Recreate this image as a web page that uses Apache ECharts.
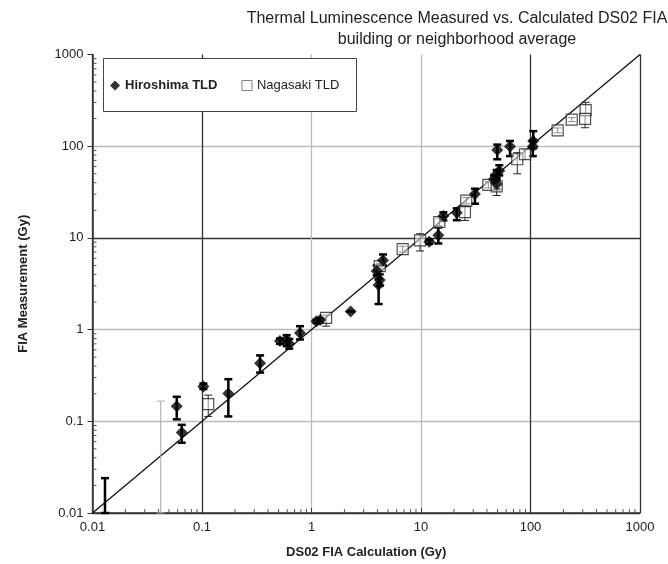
<!DOCTYPE html>
<html><head><meta charset="utf-8">
<script src="https://cdn.jsdelivr.net/npm/echarts@6/dist/echarts.min.js"></script>
<style>html,body{margin:0;padding:0;background:#fff}#c{width:668px;height:564px}</style>
</head><body><div id="c"></div>
<script>
// Hiroshima TLD
const hiroX  = [0.0588,0.0653,0.103,0.174,0.339,0.515,0.593,0.627,0.785,1.11,1.2,2.28,3.94,4.5,4.2,4.1,11.9,14.4,16.0,21.2,31.1,49.1,46.4,51.9,49.1,49.7,65.0,106,105];
const hiroY  = [0.146,0.0756,0.240,0.201,0.429,0.749,0.78,0.70,0.92,1.23,1.27,1.58,4.35,5.72,3.48,3.07,9.06,10.7,17.3,18.8,30.1,49.6,43.8,53.9,38.7,91,99,114,99];
const hiroLo = [0.105,0.0584,0.225,0.113,0.340,0.70,0.66,0.62,0.78,1.18,1.2,1.58,3.9,5.0,3.0,1.90,8.6,8.7,15.5,15.6,23.6,45,40,48,34,72,78,95,78];
const hiroHi = [0.185,0.0915,0.258,0.288,0.523,0.80,0.87,0.79,1.09,1.28,1.33,1.58,5.0,6.6,4.0,3.6,9.6,13.0,19.0,21.0,34.4,55,48,62,43,104,114,146,115];
// Nagasaki TLD
const nagaX  = [0.114,1.36,4.2,6.8,9.8,14.7,25.2,25.9,41.2,49.1,75.7,89.1,177,238,319,315];
const nagaY  = [0.154,1.34,4.93,7.53,9.42,14.9,19.1,25.5,37.8,36.5,72.1,81.7,149,195,247,199];
const nagaLo = [0.113,1.09,4.6,7.0,7.2,13.5,15.5,23.5,35,29,50,72,140,185,225,159];
const nagaHi = [0.193,1.44,5.3,8.1,11.1,16.5,22.5,27.5,41,41,85,92,158,205,301,215];
// error bars without visible marker
const thickBarX = [0.013], thickBarLo = [0.01], thickBarHi = [0.024];
const grayBarX = [0.042], grayBarLo = [0.01], grayBarHi = [0.166];
// 1:1 line
const lineX = [0.01, 1000];
// axis
const axisMin = 0.01, axisMax = 1000;
const minorVals = [0.02,0.03,0.04,0.05,0.06,0.07,0.08,0.09,0.2,0.3,0.4,0.5,0.6,0.7,0.8,0.9,2,3,4,5,6,7,8,9,20,30,40,50,60,70,80,90,200,300,400,500,600,700,800,900];

const chart = echarts.init(document.getElementById('c'));
const FONT = '"Liberation Sans", Arial, sans-serif';

function errRender(width, cap, color) {
  return function (params, api) {
    const x = api.value(0), lo = api.value(1), hi = api.value(2);
    const pl = api.coord([x, lo]), ph = api.coord([x, hi]);
    const style = {stroke: color, lineWidth: width};
    return {type: 'group', children: [
      {type: 'line', shape: {x1: pl[0], y1: pl[1], x2: ph[0], y2: ph[1]}, style},
      {type: 'line', shape: {x1: pl[0]-cap, y1: pl[1], x2: pl[0]+cap, y2: pl[1]}, style},
      {type: 'line', shape: {x1: ph[0]-cap, y1: ph[1], x2: ph[0]+cap, y2: ph[1]}, style}
    ]};
  };
}
const zip3 = (a,b,c) => a.map((v,i)=>[v,b[i],c[i]]);

chart.setOption({
  animation: false,
  backgroundColor: '#fff',
  textStyle: {fontFamily: FONT},
  title: {
    text: 'Thermal Luminescence Measured vs. Calculated DS02 FIA\nbuilding or neighborhood average',
    left: 452, top: 3, textAlign: 'center',
    textStyle: {fontFamily: FONT, fontSize: 16, fontWeight: 'normal', color: '#222', lineHeight: 21}
  },
  grid: {left: 92.5, right: 28, top: 54.5, bottom: 47.5},
  graphic: [{type: 'rect', left: 103, top: 58, shape: {width: 253, height: 53}, style: {fill: '#fff', stroke: '#444', lineWidth: 1}, z: 5}],
  legend: {
    left: 105, top: 74, itemGap: 24, itemWidth: 10, itemHeight: 10, z: 10,
    textStyle: {fontFamily: FONT, fontSize: 13, color: '#222'},
    data: [
      {name: 'Hiroshima TLD', icon: 'diamond', textStyle: {fontWeight: 'bold'}},
      {name: 'Nagasaki TLD', icon: 'rect', itemStyle: {color: '#fff', borderColor: '#666', borderWidth: 1}}
    ]
  },
  xAxis: {
    type: 'log', logBase: 10, min: axisMin, max: axisMax,
    name: 'DS02 FIA Calculation (Gy)', nameLocation: 'middle', nameGap: 33,
    nameTextStyle: {fontFamily: FONT, fontSize: 13, fontWeight: 'bold', color: '#222'},
    axisLine: {show: true, onZero: false, lineStyle: {color: '#333', width: 1.5}},
    axisTick: {show: true, inside: true, length: 5, lineStyle: {color: '#333'}},
    axisLabel: {fontFamily: FONT, fontSize: 13, color: '#222', margin: 8, formatter: v => String(+v.toPrecision(3))},
    splitLine: {show: true, lineStyle: {color: ['#333','#333','#bbb','#bbb','#333','#333'], width: 1.3}}
  },
  yAxis: {
    type: 'log', logBase: 10, min: axisMin, max: axisMax,
    name: 'FIA Measurement (Gy)', nameLocation: 'middle', nameGap: 63,
    nameTextStyle: {fontFamily: FONT, fontSize: 13, fontWeight: 'bold', color: '#222'},
    axisLine: {show: true, onZero: false, lineStyle: {color: '#333', width: 1.5}},
    axisTick: {show: true, inside: false, length: 5, lineStyle: {color: '#333'}},
    axisLabel: {fontFamily: FONT, fontSize: 13, color: '#222', margin: 9, formatter: v => String(+v.toPrecision(3))},
    splitLine: {show: true, lineStyle: {color: ['#333','#bbb','#bbb','#333','#bbb','rgba(0,0,0,0)'], width: 1.3}}
  },
  series: [
    {type: 'custom', name: 'xminor', silent: true, z: 1,
     data: minorVals.map(v => [v]),
     renderItem: (p, api) => { const c = api.coord([api.value(0), axisMin]);
       return {type: 'line', shape: {x1: c[0], y1: c[1], x2: c[0], y2: c[1]-4}, style: {stroke: '#555', lineWidth: 1}}; }},
    {type: 'custom', name: 'yminor', silent: true, z: 1,
     data: minorVals.map(v => [v]),
     renderItem: (p, api) => { const c = api.coord([axisMin, api.value(0)]);
       return {type: 'line', shape: {x1: c[0], y1: c[1], x2: c[0]+4, y2: c[1]}, style: {stroke: '#555', lineWidth: 1}}; }},
    {type: 'line', name: 'diag', data: lineX.map(v => [v, v]), symbol: 'none', silent: true, z: 2,
     lineStyle: {color: '#111', width: 1.3}},
    {type: 'custom', name: 'grayBar', z: 3, data: zip3(grayBarX, grayBarLo, grayBarHi), renderItem: errRender(1, 4, '#aaa')},
    {type: 'custom', name: 'thickBar', z: 3, data: zip3(thickBarX, thickBarLo, thickBarHi), renderItem: errRender(2.5, 4, '#000')},
    {type: 'custom', name: 'nagaErr', z: 3, data: zip3(nagaX, nagaLo, nagaHi), renderItem: errRender(1, 4, '#222')},
    {type: 'custom', name: 'hiroErr', z: 3, data: zip3(hiroX, hiroLo, hiroHi), renderItem: errRender(2.5, 4, '#000')},
    {type: 'scatter', name: 'Nagasaki TLD', z: 4, symbol: 'rect', symbolSize: 11,
     itemStyle: {color: 'rgba(255,255,255,0.6)', borderColor: '#222', borderWidth: 1.2},
     data: nagaX.map((v,i) => [v, nagaY[i]])},
    {type: 'scatter', name: 'Hiroshima TLD', z: 5, symbol: 'diamond', symbolSize: 12,
     itemStyle: {color: '#000'},
     data: hiroX.map((v,i) => [v, hiroY[i]])}
  ]
});
</script></body></html>
